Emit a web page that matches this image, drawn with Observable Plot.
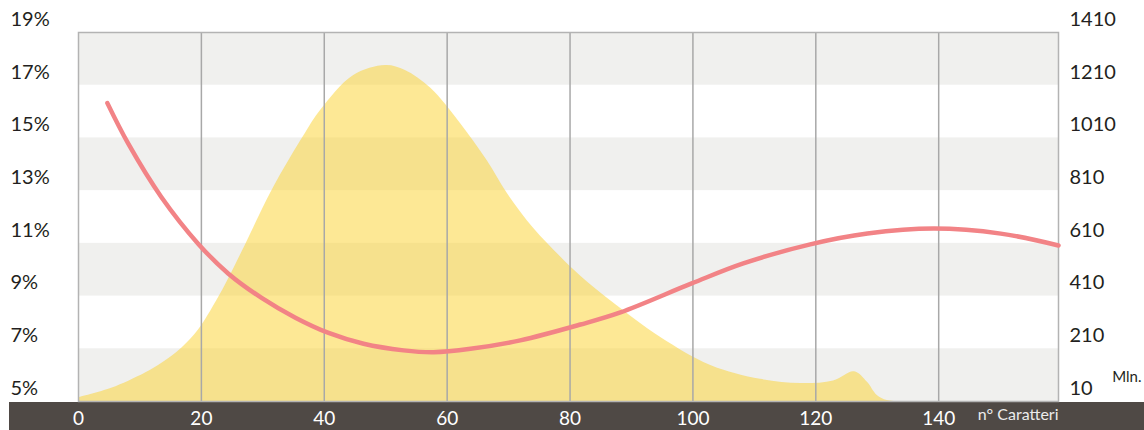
<!DOCTYPE html>
<html>
<head>
<meta charset="utf-8">
<script src="https://cdn.jsdelivr.net/npm/d3@7"></script>
<script src="https://cdn.jsdelivr.net/npm/@observablehq/plot@0.6"></script>
<style>
  html, body { margin: 0; padding: 0; background: #fff; }
  #wrap { position: relative; width: 1144px; height: 430px; overflow: hidden; }
  #band { position: absolute; left: 9px; top: 402px; right: 0; bottom: 0; background: #4f4945; }
  #chart { position: absolute; left: 0; top: 0; }
</style>
</head>
<body>
<div id="wrap"><div id="band"></div><div id="chart"></div></div>
<script>
// Tick labels
const xTicks = [0, 20, 40, 60, 80, 100, 120, 140];
const pctTicks = [5, 7, 9, 11, 13, 15, 17, 19];
const mlnTicks = [10, 210, 410, 610, 810, 1010, 1210, 1410];
// Lower edge (in %) of the shaded horizontal bands
const grayBands = [5, 9, 13, 17];

// Yellow area: number of characters vs. millions
const areaChars = [0, 5.4, 10.9, 13.7, 16.8, 19.5, 22.5, 24.4, 27.1, 31.5, 36.9, 39.4, 44.8, 50.0, 53.2, 57.3, 62.2, 66.5, 69.8, 74.1, 78.4, 81.7, 86.6, 94.7, 102.9, 111.0, 117.5, 122.9, 126.3, 128.4, 130.0, 131.6, 133.5];
const areaMln   = [24, 60, 118, 157, 212, 280, 392, 474, 600, 811, 1026, 1114, 1247, 1285, 1266, 1199, 1064, 924, 799, 666, 560, 486, 392, 254, 147, 94, 78, 88, 123, 83, 33, 14, 10];

// Red line: number of characters vs. percentage
const lineChars = [4.7, 8.1, 13.5, 19.5, 24.4, 29.8, 35.3, 40.7, 46.4, 52.9, 57.8, 63.8, 71.9, 81.7, 88.2, 99.8, 108.2, 119.1, 128.4, 139.2, 150.1, 159.5];
const linePct   = [16.32, 14.78, 12.75, 10.98, 9.85, 8.93, 8.18, 7.60, 7.19, 6.94, 6.87, 7.00, 7.32, 7.92, 8.38, 9.48, 10.24, 10.96, 11.37, 11.56, 11.37, 10.92];

// right axis (Mln) is a linear transform of the left axis (%)
const mlnToPct = m => 5 + (m - 10) / 100;

const areaData = areaChars.map((x, i) => ({x, mln: areaMln[i]}));
const lineData = lineChars.map((x, i) => ({x, pct: linePct[i]}));

const chart = Plot.plot({
  width: 1144,
  height: 430,
  marginLeft: 78,
  marginRight: 86,
  marginTop: 32,
  marginBottom: 29,
  x: {domain: [0, 159.5]},
  y: {domain: [5, 19]},
  style: {background: "transparent", fontFamily: "Lato, 'Open Sans', sans-serif"},
  marks: [
    Plot.rect(grayBands, {y1: d => d, y2: d => d + 2, fill: "#f0f0ee"}),
    Plot.areaY(areaData, {x: "x", y1: () => 5, y2: d => mlnToPct(d.mln), fill: "#fbd12b", fillOpacity: 0.5, curve: "catmull-rom", clip: true}),
    Plot.ruleX(xTicks.slice(1), {stroke: "#a8a8a8", strokeWidth: 1.5}),
    Plot.frame({stroke: "#b3b3b3", strokeWidth: 1.5}),
    Plot.lineY(lineData, {x: "x", y: "pct", stroke: "#f28386", strokeWidth: 4.5, curve: "catmull-rom", strokeLinecap: "round"}),
    Plot.axisY(pctTicks, {anchor: "left", tickSize: 0, tickPadding: 0, dx: -68, dy: -13, textAnchor: "start", fontSize: 20, fill: "#231f20", tickFormat: d => d + "%", label: null}),
    Plot.axisY(pctTicks, {anchor: "right", tickSize: 0, tickPadding: 11, dy: -13, textAnchor: "start", fontSize: 20, fill: "#231f20", tickFormat: d => String(mlnTicks[pctTicks.indexOf(d)]), label: null}),
    Plot.axisX(xTicks, {anchor: "bottom", tickSize: 0, tickPadding: 10, fontSize: 19, fill: "#ffffff", label: null}),
    Plot.text(["n° Caratteri"], {text: d => d, frameAnchor: "bottom-right", textAnchor: "end", dy: 18, fontSize: 16, fill: "#ececec"}),
    Plot.text(["Mln."], {text: d => d, frameAnchor: "bottom-right", textAnchor: "end", dx: 83, dy: -20, fontSize: 15, fill: "#231f20"})
  ]
});
document.getElementById("chart").appendChild(chart);
</script>
</body>
</html>
